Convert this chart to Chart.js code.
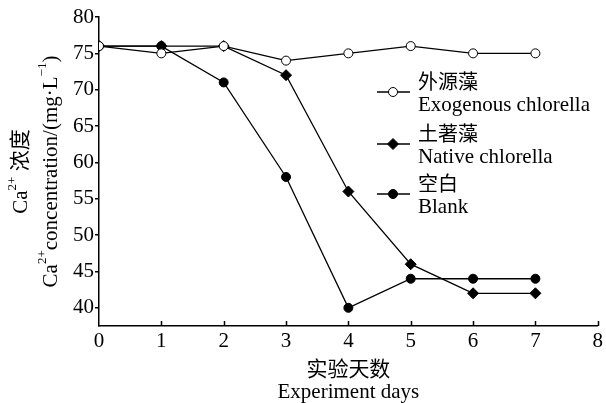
<!DOCTYPE html>
<html>
<head>
<meta charset="utf-8">
<script src="https://cdn.jsdelivr.net/npm/chart.js@4/dist/chart.umd.min.js"></script>
<style>
  html, body { margin: 0; padding: 0; background: #fff; }
  #wrap { width: 606px; height: 403px; }
</style>
</head>
<body>
<div id="wrap"><canvas id="chartCa"></canvas></div>
<script>
const days = [0, 1, 2, 3, 4, 5, 6, 7];
const exogenous = [76, 75, 76, 74, 75, 76, 75, 75];
const native = [76, 76, 76, 72, 56, 46, 42, 42];
const blank = [76, 76, 71, 58, 40, 44, 44, 44];
const namesZh = ["外源藻", "土著藻", "空白"];
const namesEn = ["Exogenous chlorella", "Native chlorella", "Blank"];
const xTicks = [0, 1, 2, 3, 4, 5, 6, 7, 8];
const yTicks = [40, 45, 50, 55, 60, 65, 70, 75, 80];

const SERIF = "'Liberation Serif', 'Times New Roman', 'Noto Sans CJK SC', serif";

const styles = [
  { pointStyle: "circle", fill: "#fff", radius: 4.5 },
  { pointStyle: "rectRot", fill: "#000", radius: 5.5 },
  { pointStyle: "circle", fill: "#000", radius: 4.5 }
];
const series = [exogenous, native, blank];

// draws text pieces, some of them raised as superscripts
function drawRuns(ctx, runs, cx, cy, size) {
  const pieces = runs.map(r => {
    const s = r[1] ? size * 0.62 : size;
    ctx.font = `${s}px ${SERIF}`;
    return { t: r[0], s, sup: r[1], w: ctx.measureText(r[0]).width };
  });
  let x = cx - pieces.reduce((a, p) => a + p.w, 0) / 2;
  ctx.textBaseline = "middle";
  ctx.textAlign = "left";
  pieces.forEach(p => {
    ctx.font = `${p.s}px ${SERIF}`;
    ctx.fillText(p.t, x, p.sup ? cy - size * 0.38 : cy);
    x += p.w;
  });
}

function drawMarker(ctx, st, x, y) {
  ctx.beginPath();
  if (st.pointStyle === "circle") {
    ctx.arc(x, y, st.radius, 0, Math.PI * 2);
  } else {
    ctx.moveTo(x, y - st.radius);
    ctx.lineTo(x + st.radius, y);
    ctx.lineTo(x, y + st.radius);
    ctx.lineTo(x - st.radius, y);
    ctx.closePath();
  }
  ctx.fillStyle = st.fill;
  ctx.fill();
  ctx.lineWidth = 1;
  ctx.strokeStyle = "#000";
  ctx.stroke();
}

const decor = {
  id: "decor",
  afterDraw(chart) {
    const ctx = chart.ctx;
    const xs = chart.scales.x, area = chart.chartArea;
    ctx.save();
    ctx.strokeStyle = "#000";
    ctx.lineWidth = 1.5;
    // x ticks point inwards
    xTicks.forEach(v => {
      const px = Math.round(xs.getPixelForValue(v)) + 0.5;
      if (v === 0) return;
      ctx.beginPath();
      ctx.moveTo(px, area.bottom);
      ctx.lineTo(px, area.bottom - 5);
      ctx.stroke();
    });

    ctx.fillStyle = "#000";
    // x title
    drawRuns(ctx, [["实验天数"]], (area.left + area.right) / 2, 370, 21);
    drawRuns(ctx, [["Experiment days"]], (area.left + area.right) / 2, 392, 21);

    // y title
    const cy = (area.top + area.bottom) / 2;
    ctx.save();
    ctx.translate(21, cy);
    ctx.rotate(-Math.PI / 2);
    drawRuns(ctx, [["Ca"], ["2+", true], [" 浓度"]], 0, 0, 21);
    ctx.restore();
    ctx.save();
    ctx.translate(51, cy);
    ctx.rotate(-Math.PI / 2);
    drawRuns(ctx, [["Ca"], ["2+", true], ["concentration/(mg·L"], ["−1", true], [")"]], 0, 0, 21);
    ctx.restore();

    // legend
    const rows = [92, 144, 194];
    rows.forEach((ly, i) => {
      ctx.strokeStyle = "#000";
      ctx.lineWidth = 1.3;
      ctx.beginPath();
      ctx.moveTo(377, ly);
      ctx.lineTo(410, ly);
      ctx.stroke();
      drawMarker(ctx, styles[i], 393, ly);
      ctx.fillStyle = "#000";
      ctx.textAlign = "left";
      ctx.textBaseline = "middle";
      ctx.font = `20px ${SERIF}`;
      ctx.fillText(namesZh[i], 418, ly - 8);
      ctx.font = `21px ${SERIF}`;
      ctx.fillText(namesEn[i], 418, ly + 13);
    });
    ctx.restore();
  }
};

const datasets = series.map((vals, i) => ({
  label: namesEn[i],
  data: days.map((d, k) => ({ x: d, y: vals[k] })),
  borderColor: "#000",
  borderWidth: 1.3,
  pointStyle: styles[i].pointStyle,
  pointRadius: styles[i].radius,
  pointBackgroundColor: styles[i].fill,
  pointBorderColor: "#000",
  pointBorderWidth: 1,
  tension: 0,
  fill: false
}));

new Chart(document.getElementById("chartCa"), {
  type: "line",
  data: { datasets },
  options: {
    responsive: true,
    maintainAspectRatio: false,
    animation: false,
    layout: { padding: { top: 17, right: 8, left: 0, bottom: 0 } },
    plugins: { legend: { display: false }, tooltip: { enabled: false } },
    scales: {
      x: {
        type: "linear",
        min: 0,
        max: 8,
        afterBuildTicks: s => { s.ticks = xTicks.map(v => ({ value: v })); },
        afterFit: s => { s.height = 77; },
        ticks: { color: "#000", padding: 3, font: { size: 21, family: SERIF } },
        grid: { display: false, drawTicks: false, tickLength: 0 },
        border: { display: true, color: "#000", width: 1.5 }
      },
      y: {
        min: 37.5,
        max: 80,
        afterBuildTicks: s => { s.ticks = yTicks.map(v => ({ value: v })); },
        afterFit: s => { s.width = 99; },
        ticks: { color: "#000", padding: 1, font: { size: 21, family: SERIF } },
        grid: { display: true, drawOnChartArea: false, drawTicks: true, tickLength: 4, color: "#000", lineWidth: 1.5 },
        border: { display: true, color: "#000", width: 1.5 }
      }
    }
  },
  plugins: [decor]
});
</script>
</body>
</html>
